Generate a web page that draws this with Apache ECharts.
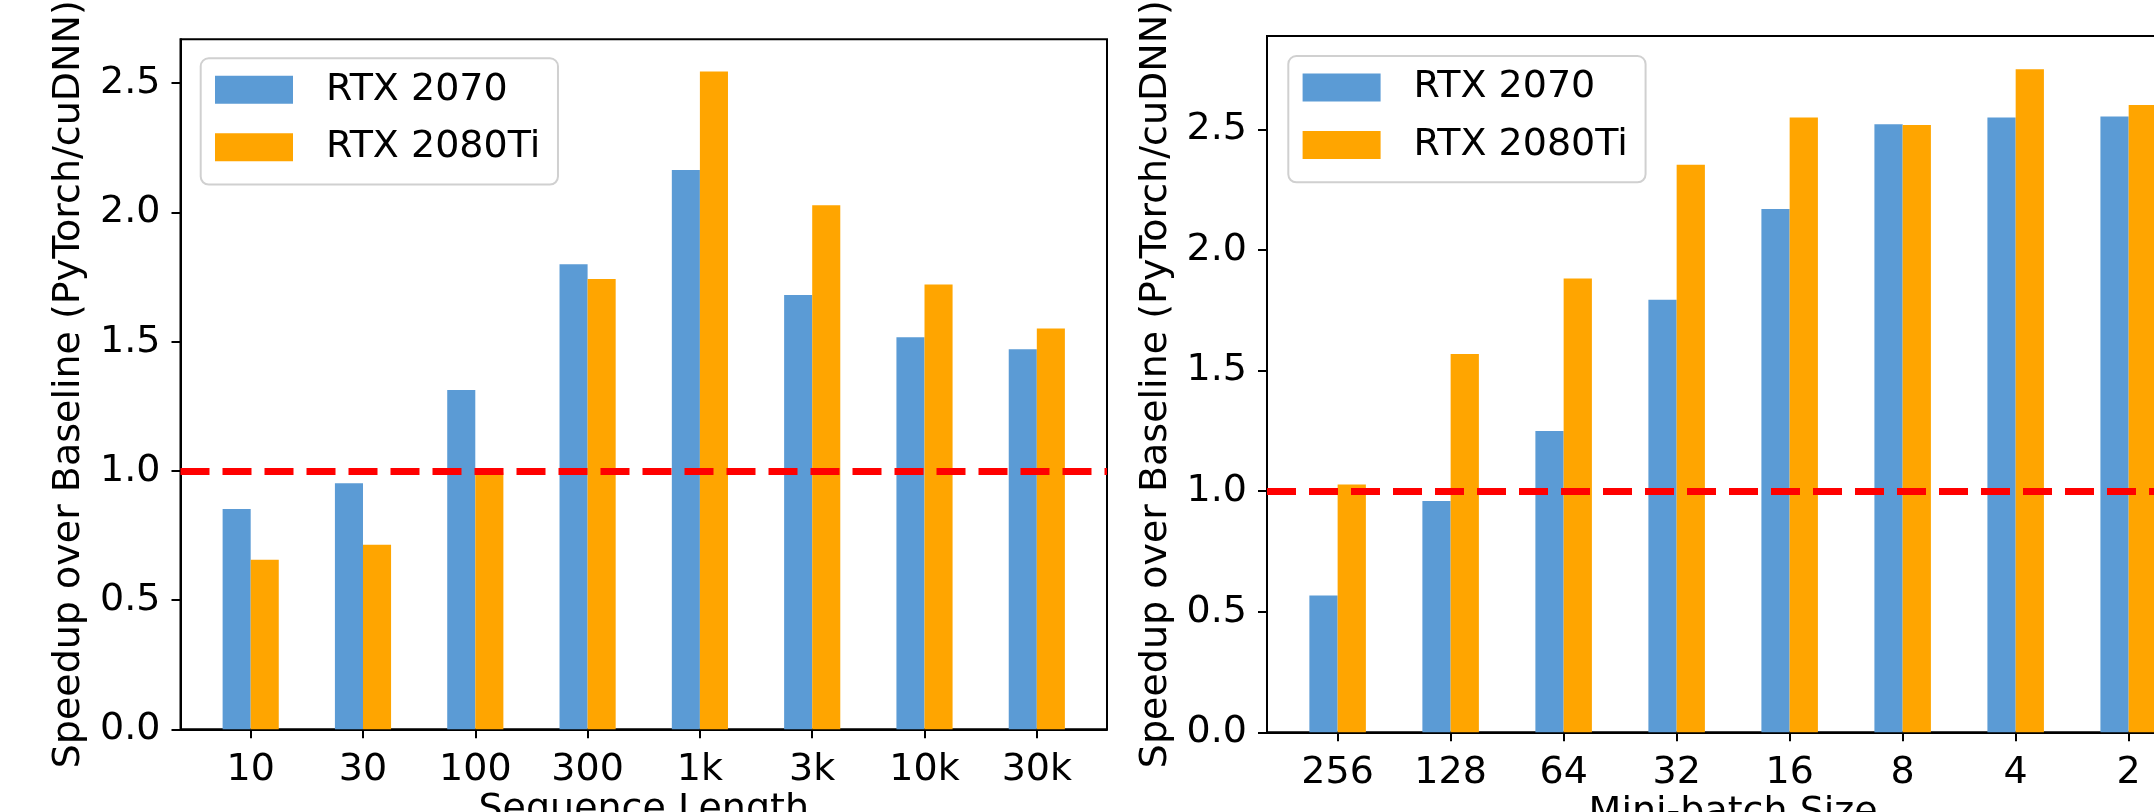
<!DOCTYPE html>
<html><head><meta charset="utf-8">
<script src="https://cdn.jsdelivr.net/npm/echarts@6/dist/echarts.min.js"></script>
<style>html,body{margin:0;padding:0;background:#fff}#c{width:2154px;height:812px}</style>
</head><body><div id="c"></div>
<script>
// ---- data ----
const seqCategories = ['10', '30', '100', '300', '1k', '3k', '10k', '30k'];
const seqRTX2070 = [0.852, 0.952, 1.313, 1.800, 2.164, 1.681, 1.517, 1.471];
const seqRTX2080Ti = [0.656, 0.714, 0.994, 1.742, 2.545, 2.028, 1.721, 1.551];
const batchCategories = ['256', '128', '64', '32', '16', '8', '4', '2'];
const batchRTX2070 = [0.567, 0.959, 1.249, 1.794, 2.170, 2.522, 2.550, 2.554];
const batchRTX2080Ti = [1.028, 1.569, 1.882, 2.354, 2.550, 2.518, 2.750, 2.601];
const yTickValues = [0, 0.5, 1.0, 1.5, 2.0, 2.5];
const baselineValue = 1.0;
const seriesNames = ['RTX 2070', 'RTX 2080Ti'];
const xTitles = ['Sequence Length', 'Mini-batch Size'];
const yTitle = 'Speedup over Baseline (PyTorch/cuDNN)';

// ---- styles ----
const FONT = 'DejaVu Sans';
const FS = 38;
const BLUE = '#5b9bd5';
const ORANGE = '#ffa500';

const chart = echarts.init(document.getElementById('c'), null, {renderer: 'canvas'});

const panels = [
  {cats: seqCategories, a: seqRTX2070, b: seqRTX2080Ti, xTitle: xTitles[0], ymax: 2.67,
   grid: {left: 180.5, top: 39.3, right: 1047, bottom: 82.7}, legend: {left: 200.7, top: 58.3}},
  {cats: batchCategories, a: batchRTX2070, b: batchRTX2080Ti, xTitle: xTitles[1], ymax: 2.8875,
   grid: {left: 1267, top: 36, right: -45.3, bottom: 79.7}, legend: {left: 1288.3, top: 56}}
];

const option = {
  animation: false,
  backgroundColor: '#fff',
  textStyle: {fontFamily: FONT},
  grid: [], xAxis: [], yAxis: [], series: [], legend: []
};

panels.forEach((p, k) => {
  const idx = p.cats.map((c, i) => i);
  option.grid.push(Object.assign({show: true, borderColor: '#000', borderWidth: 2, backgroundColor: 'transparent',
    containLabel: false, outerBoundsMode: 'none'}, p.grid));
  option.xAxis.push({
    type: 'value', gridIndex: k, min: -0.625, max: p.cats.length - 1 + 0.625,
    splitLine: {show: false},
    axisLine: {show: true, onZero: false, lineStyle: {color: '#000', width: 2}},
    axisTick: {show: true, length: 9, lineStyle: {color: '#000', width: 2}, customValues: idx},
    axisLabel: {show: true, customValues: idx, margin: 22, color: '#000', fontFamily: FONT, fontSize: FS,
      formatter: v => p.cats[Math.round(v)]},
    name: p.xTitle, nameLocation: 'middle', nameGap: 62, nameMoveOverlap: false,
    nameTextStyle: {color: '#000', fontFamily: FONT, fontSize: FS, verticalAlign: 'top'}
  });
  option.yAxis.push({
    type: 'value', gridIndex: k, min: 0, max: p.ymax,
    splitLine: {show: false},
    axisLine: {show: true, onZero: false, lineStyle: {color: '#000', width: 2}},
    axisTick: {show: true, length: 9, lineStyle: {color: '#000', width: 2}, customValues: yTickValues},
    axisLabel: {show: true, customValues: yTickValues, margin: 20, color: '#000', fontFamily: FONT, fontSize: FS,
      formatter: v => v.toFixed(1)},
    name: yTitle, nameLocation: 'middle', nameRotate: 90, nameGap: 92, nameMoveOverlap: false,
    nameTextStyle: {color: '#000', fontFamily: FONT, fontSize: FS}
  });
  option.series.push({
    type: 'bar', name: seriesNames[0], xAxisIndex: k, yAxisIndex: k,
    data: idx.map(i => [i, p.a[i]]), barWidth: '25%', barGap: '0%',
    itemStyle: {color: BLUE}
  });
  option.series.push({
    type: 'bar', name: seriesNames[1], xAxisIndex: k, yAxisIndex: k,
    data: idx.map(i => [i, p.b[i]]), barWidth: '25%', barGap: '0%',
    itemStyle: {color: ORANGE},
    markLine: {
      silent: true, symbol: ['none', 'none'], z: 5,
      label: {show: false},
      lineStyle: {color: '#ff0000', width: 7, type: [29, 13]},
      data: [{yAxis: baselineValue}]
    }
  });
  option.legend.push({
    left: p.legend.left, top: p.legend.top, orient: 'vertical',
    data: seriesNames, icon: 'rect', itemWidth: 78, itemHeight: 28, itemGap: 19.5,
    padding: [12.5, 17.7, 18.3, 14.3],
    backgroundColor: '#fff', borderColor: '#d0d0d0', borderWidth: 2, borderRadius: 8,
    selectedMode: false,
    textStyle: {color: '#000', fontFamily: FONT, fontSize: FS, lineHeight: 38, padding: [0, 0, 0, 28]}
  });
});

chart.setOption(option);
</script>
</body></html>
